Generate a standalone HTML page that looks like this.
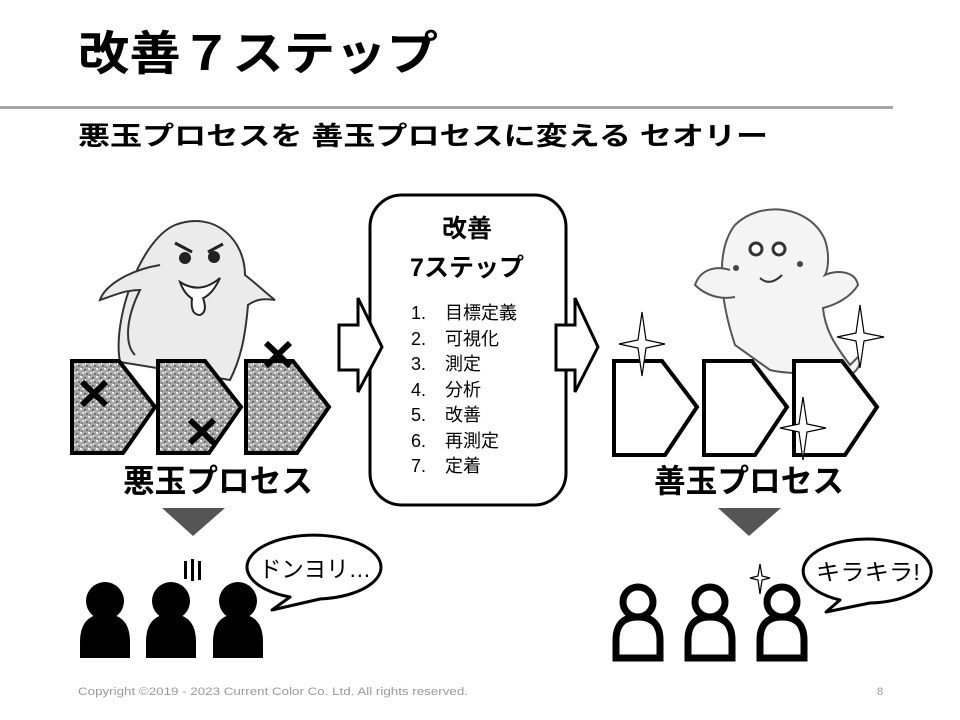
<!DOCTYPE html>
<html><head><meta charset="utf-8"><style>
html,body{margin:0;padding:0;background:#fff;}
svg{display:block;}
text{font-family:"Liberation Sans","Noto Sans CJK JP",sans-serif;}
</style></head><body>
<svg width="960" height="720" viewBox="0 0 960 720" xmlns="http://www.w3.org/2000/svg">
<defs>
<pattern id="noise" width="8" height="8" patternUnits="userSpaceOnUse">
<rect width="8" height="8" fill="#a8a8a8"/>
<rect x="0" y="0" width="2" height="2" fill="#eee"/><rect x="4" y="1" width="2" height="2" fill="#666"/>
<rect x="2" y="4" width="2" height="2" fill="#ddd"/><rect x="6" y="5" width="2" height="2" fill="#777"/>
<rect x="1" y="6" width="2" height="2" fill="#888"/><rect x="5" y="3" width="1" height="2" fill="#fff"/>
</pattern>
</defs>
<text x="78" y="70" font-size="47" font-weight="bold" textLength="360" lengthAdjust="spacingAndGlyphs">改善７ステップ</text>
<rect x="0" y="106" width="893" height="3" fill="#a6a6a6"/>
<text x="78" y="145" font-size="26" font-weight="bold" textLength="690" lengthAdjust="spacingAndGlyphs">悪玉プロセスを 善玉プロセスに変える セオリー</text>

<!-- bad ghost -->
<path d="M120,362 C112,320 140,240 175,225 C215,210 245,240 245,275 C258,285 268,295 275,300 C262,298 255,300 248,305 C245,340 240,360 230,380 Z" fill="#ebebeb" stroke="#333" stroke-width="2"/>
<path d="M160,265 C130,270 105,285 100,300 C115,295 125,290 140,290 C125,320 125,345 135,355" fill="#ebebeb" stroke="#333" stroke-width="2"/>
<circle cx="185" cy="258" r="6" fill="#222"/><circle cx="214" cy="257" r="6" fill="#222"/>
<path d="M175,243 L192,252 M223,244 L208,252" stroke="#222" stroke-width="3"/>
<path d="M180,282 Q200,295 220,278 Q210,300 195,300 Q185,296 180,282Z" fill="#fff" stroke="#222" stroke-width="2"/>
<path d="M192,298 Q190,315 200,315 Q208,312 203,298" fill="#fff" stroke="#222" stroke-width="2"/>

<!-- bad pentagons -->
<g fill="url(#noise)" stroke="#000" stroke-width="4">
<path d="M72,361 L119,361 L155,407 L123,453 L72,453 Z"/>
<path d="M158,361 L205,361 L241,407 L209,453 L158,453 Z"/>
<path d="M246,361 L293,361 L329,407 L297,453 L246,453 Z"/>
</g>
<g stroke="#000" stroke-width="6">
<path d="M82,382 L106,405 M106,382 L82,405"/>
<path d="M190,420 L214,443 M214,420 L190,443"/>
<path d="M266,343 L290,366 M290,343 L266,366"/>
</g>
<text x="218" y="492" font-size="32" font-weight="bold" text-anchor="middle" textLength="190" lengthAdjust="spacingAndGlyphs">悪玉プロセス</text>
<path d="M162,508 L225,508 L193,536 Z" fill="#555"/>

<!-- center box -->
<rect x="370" y="195" width="196" height="310" rx="32" fill="#fff" stroke="#000" stroke-width="3"/>
<text x="467" y="237" font-size="25" font-weight="bold" text-anchor="middle">改善</text>
<text x="467" y="276" font-size="25" font-weight="bold" text-anchor="middle">7ステップ</text>
<g font-size="18">
<text x="411" y="319">1.</text><text x="445" y="319">目標定義</text>
<text x="411" y="345">2.</text><text x="445" y="345">可視化</text>
<text x="411" y="370">3.</text><text x="445" y="370">測定</text>
<text x="411" y="396">4.</text><text x="445" y="396">分析</text>
<text x="411" y="421">5.</text><text x="445" y="421">改善</text>
<text x="411" y="447">6.</text><text x="445" y="447">再測定</text>
<text x="411" y="472">7.</text><text x="445" y="472">定着</text>
</g>

<!-- arrows (on top of box) -->
<path d="M339,325 L358,325 L358,298 L382,347 L358,392 L358,370 L339,370 Z" fill="#fff" stroke="#000" stroke-width="3"/>
<path d="M556,325 L575,325 L575,298 L598,347 L575,392 L575,370 L556,370 Z" fill="#fff" stroke="#000" stroke-width="3"/>

<!-- good ghost -->
<path d="M735,345 C720,300 715,250 735,225 C760,200 810,205 825,240 C830,255 828,270 825,275 C835,270 855,270 858,285 C850,298 835,305 823,308 C825,330 835,345 850,365 L860,355 C862,370 850,380 835,375 C815,372 790,375 770,370 Z" fill="#f4f4f4" stroke="#555" stroke-width="2"/>
<path d="M730,270 C715,265 700,270 695,285 C705,295 720,300 735,297" fill="#f4f4f4" stroke="#555" stroke-width="2"/>
<circle cx="756" cy="249" r="6" fill="#fff" stroke="#333" stroke-width="3"/><circle cx="779" cy="249" r="6" fill="#fff" stroke="#333" stroke-width="3"/>
<circle cx="736" cy="268" r="3" fill="#444"/><circle cx="800" cy="264" r="3" fill="#444"/>
<path d="M760,278 Q770,287 782,275" fill="none" stroke="#333" stroke-width="2"/>

<!-- good pentagons -->
<g fill="#fff" stroke="#000" stroke-width="4">
<path d="M614,361 L662,361 L697,407 L665,455 L614,455 Z"/>
<path d="M704,361 L752,361 L787,407 L755,455 L704,455 Z"/>
<path d="M794,361 L842,361 L877,407 L845,455 L794,455 Z"/>
</g>
<g fill="#fff" stroke="#000" stroke-width="1.2">
<path d="M642,312 L646,340 L665,344 L646,348 L642,376 L638,348 L619,344 L638,340 Z"/>
<path d="M860,305 L864,333 L884,337 L864,341 L860,368 L856,341 L837,337 L856,333 Z"/>
<path d="M803,397 L807,424 L826,428 L807,432 L803,460 L799,432 L780,428 L799,424 Z"/>
<path d="M760,564 L762,576 L770,578 L762,580 L760,594 L758,580 L750,578 L758,576 Z"/>
</g>
<text x="749" y="492" font-size="32" font-weight="bold" text-anchor="middle" textLength="190" lengthAdjust="spacingAndGlyphs">善玉プロセス</text>
<path d="M718,508 L781,508 L749,536 Z" fill="#555"/>

<!-- bad people -->
<g fill="#000">
<circle cx="105" cy="601" r="19"/><path d="M80,658 L80,642 Q80,614 105,614 Q130,614 130,642 L130,658 Z"/>
<circle cx="171" cy="601" r="19"/><path d="M146,658 L146,642 Q146,614 171,614 Q196,614 196,642 L196,658 Z"/>
<circle cx="238" cy="601" r="19"/><path d="M213,658 L213,642 Q213,614 238,614 Q263,614 263,642 L263,658 Z"/>
<rect x="184" y="561" width="3" height="18"/><rect x="191" y="559" width="3" height="22"/><rect x="198" y="561" width="3" height="19"/>
</g>
<path d="M290,597 A67,32 0 1 1 320,599 L272,610 Z" fill="#fff" stroke="#000" stroke-width="3" stroke-linejoin="round"/>
<text x="315" y="577" font-size="23" text-anchor="middle" textLength="112" lengthAdjust="spacingAndGlyphs">ドンヨリ…</text>

<!-- good people -->
<g fill="none" stroke="#000" stroke-width="7">
<circle cx="638" cy="602" r="15"/><path d="M616,658 L616,640 Q616,617 638,617 Q660,617 660,640 L660,658 Z"/>
<circle cx="710" cy="602" r="15"/><path d="M688,658 L688,640 Q688,617 710,617 Q732,617 732,640 L732,658 Z"/>
<circle cx="782" cy="602" r="15"/><path d="M760,658 L760,640 Q760,617 782,617 Q804,617 804,640 L804,658 Z"/>
</g>
<path d="M840,600 A64,32 0 1 1 870,603 L826,612 Z" fill="#fff" stroke="#000" stroke-width="3" stroke-linejoin="round"/>
<text x="868" y="580" font-size="23" text-anchor="middle" textLength="104" lengthAdjust="spacingAndGlyphs">キラキラ!</text>

<text x="78" y="695" font-size="11" fill="#999" textLength="390" lengthAdjust="spacingAndGlyphs">Copyright ©2019 - 2023 Current Color Co. Ltd. All rights reserved.</text>
<text x="877" y="695" font-size="11" fill="#999">8</text>
</svg>
</body></html>
